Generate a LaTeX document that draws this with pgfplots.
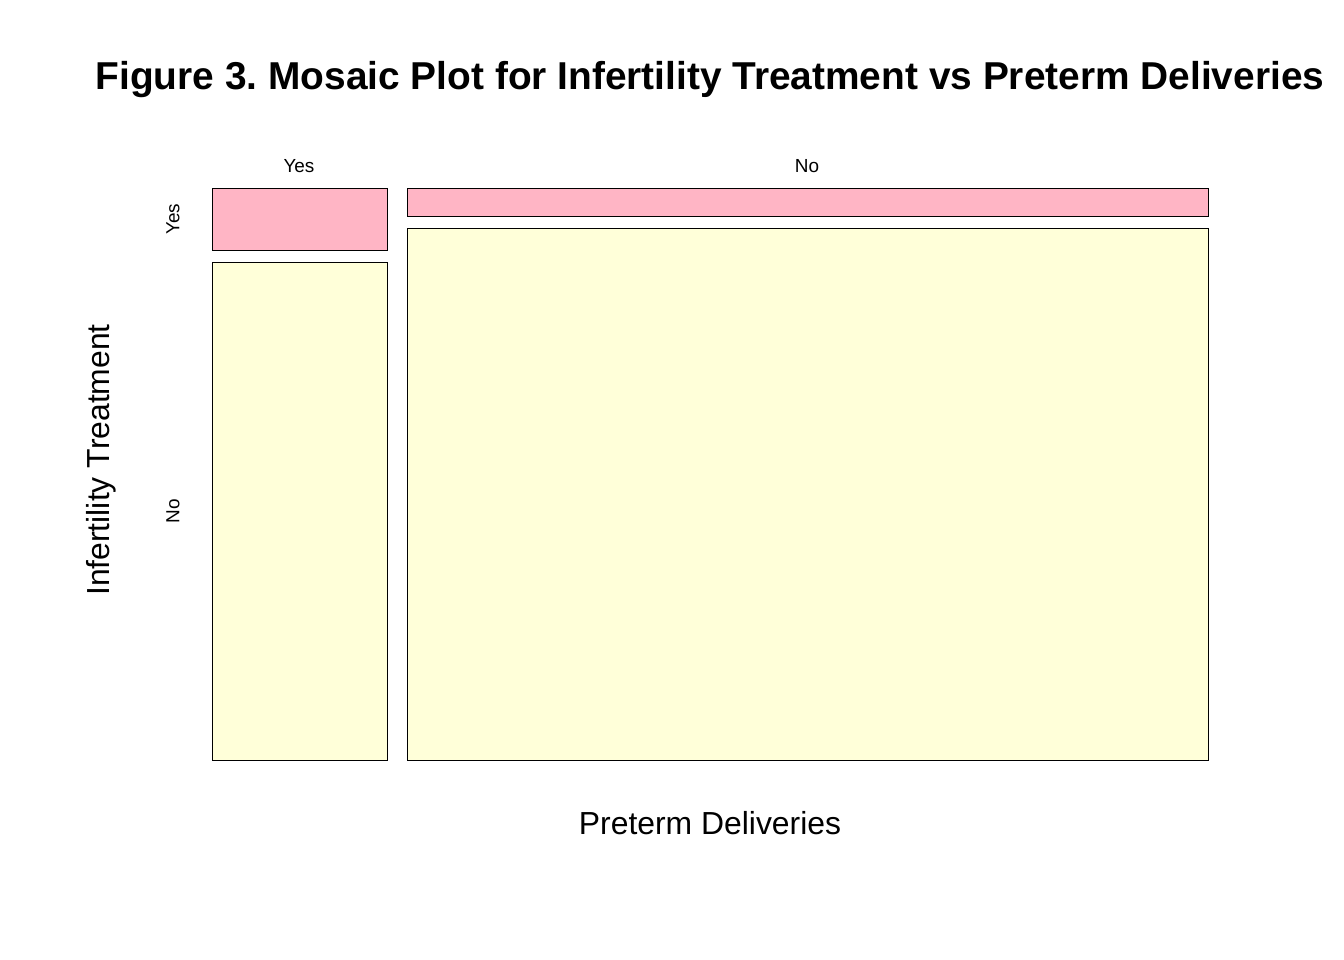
\documentclass[border=0pt]{standalone}
\usepackage{pgfplots}
\pgfplotsset{compat=1.18}
\usepackage{fontspec}
\setmainfont{Liberation Sans}
\frenchspacing
\definecolor{pk}{RGB}{255,181,197}
\definecolor{ly}{RGB}{255,255,217}
\begin{document}
\begin{tikzpicture}
\begin{axis}[hide axis, scale only axis, width=672bp, height=480bp,
  xmin=0, xmax=1344, ymin=0, ymax=960, y dir=reverse, clip=false]
\path (axis cs:0,0) rectangle (axis cs:1344,960);
\addplot[draw=black, line width=0.5pt, fill=pk] coordinates {(212,188) (387,188) (387,250) (212,250)} -- cycle;
\addplot[draw=black, line width=0.5pt, fill=ly] coordinates {(212,262) (387,262) (387,761) (212,761)} -- cycle;
\addplot[draw=black, line width=0.5pt, fill=pk] coordinates {(407,188) (1208,188) (1208,216) (407,216)} -- cycle;
\addplot[draw=black, line width=0.5pt, fill=ly] coordinates {(407,228) (1208,228) (1208,761) (407,761)} -- cycle;
\node[font=\bfseries\fontsize{19.5}{22}\selectfont] at (axis cs:710,80) {Figure 3. Mosaic Plot for Infertility Treatment vs Preterm Deliveries};
\node[font=\fontsize{9.5}{11}\selectfont] at (axis cs:299,166) {Yes};
\node[font=\fontsize{9.5}{11}\selectfont] at (axis cs:807,166) {No};
\node[font=\fontsize{9.5}{11}\selectfont, rotate=90] at (axis cs:173,219) {Yes};
\node[font=\fontsize{9.5}{11}\selectfont, rotate=90] at (axis cs:173,511) {No};
\node[font=\fontsize{16}{18}\selectfont, rotate=90] at (axis cs:101,460) {Infertility Treatment};
\node[font=\fontsize{16}{18}\selectfont] at (axis cs:710,823) {Preterm Deliveries};
\end{axis}
\end{tikzpicture}
\end{document}
